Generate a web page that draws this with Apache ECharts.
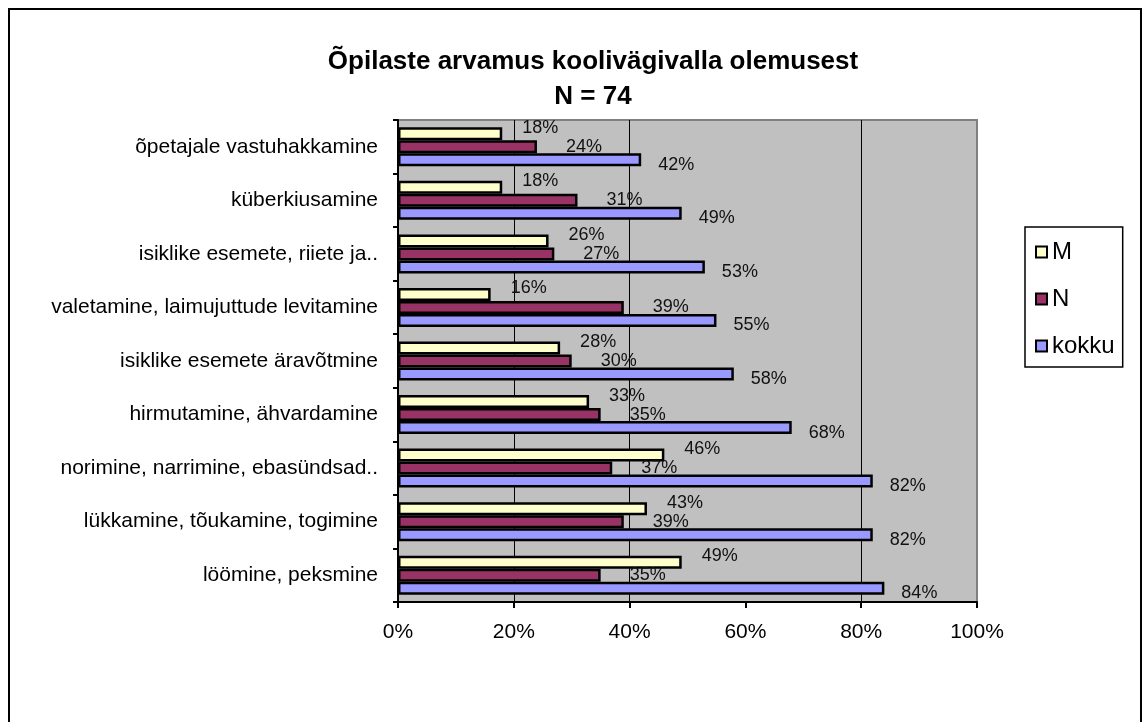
<!DOCTYPE html>
<html>
<head>
<meta charset="utf-8">
<script src="https://cdn.jsdelivr.net/npm/echarts@6/dist/echarts.min.js"></script>
<style>
  html, body { margin: 0; padding: 0; background: #fff; }
  #main { width: 1143px; height: 722px; }
</style>
</head>
<body>
<div id="main"></div>
<script>
// categories from bottom to top
const categories = [
  'löömine, peksmine',
  'lükkamine, tõukamine, togimine',
  'norimine, narrimine, ebasündsad..',
  'hirmutamine, ähvardamine',
  'isiklike esemete äravõtmine',
  'valetamine, laimujuttude levitamine',
  'isiklike esemete, riiete ja..',
  'küberkiusamine',
  'õpetajale vastuhakkamine'
];
const valuesM = [49, 43, 46, 33, 28, 16, 26, 18, 18];
const valuesN = [35, 39, 37, 35, 30, 39, 27, 31, 24];
const valuesKokku = [84, 82, 82, 68, 58, 55, 53, 49, 42];
const xTicks = [0, 20, 40, 60, 80, 100];

const font = '"Liberation Sans", Arial, sans-serif';

function barSeries (name, data, color, dist, off) {
  return {
    name: name,
    type: 'bar',
    data: data,
    barWidth: 13,
    barGap: '0%',
    itemStyle: { color: color, borderColor: '#000', borderWidth: 2.5 },
    label: {
      show: true,
      position: 'right',
      distance: dist,
      offset: off,
      formatter: '{c}%',
      fontFamily: font,
      fontSize: 18,
      color: '#111'
    }
  };
}

let chart = echarts.init(document.getElementById('main'));
chart.setOption({
  backgroundColor: '#fff',
  animation: false,
  title: {
    text: 'Õpilaste arvamus koolivägivalla olemusest\nN = 74',
    left: 588,
    top: 39,
    textAlign: 'center',
    textStyle: {
      fontFamily: font,
      fontSize: 26,
      fontWeight: 'bold',
      color: '#000',
      lineHeight: 35
    }
  },
  legend: {
    orient: 'vertical',
    left: 1025,
    top: 227,
    data: ['M', 'N', 'kokku'],
    icon: 'rect',
    itemWidth: 11,
    itemHeight: 11,
    itemGap: 23,
    padding: [13, 8, 9, 10],
    borderColor: '#000',
    borderWidth: 1.5,
    textStyle: { fontFamily: font, fontSize: 24, color: '#000' }
  },
  grid: {
    left: 398,
    right: 166,
    top: 120,
    bottom: 120,
    show: true,
    backgroundColor: '#c0c0c0',
    borderColor: '#808080',
    borderWidth: 2
  },
  xAxis: {
    type: 'value',
    min: xTicks[0],
    max: xTicks[xTicks.length - 1],
    interval: 20,
    axisLine: { show: true, lineStyle: { color: '#000', width: 2 } },
    axisTick: { show: true, length: 6, lineStyle: { color: '#000', width: 2 } },
    axisLabel: {
      formatter: '{value}%',
      margin: 20,
      fontFamily: font,
      fontSize: 21,
      color: '#000'
    },
    splitLine: {
      show: true,
      lineStyle: {
        color: ['transparent', '#000', '#000', 'transparent', '#000', 'transparent'],
        width: 1
      }
    }
  },
  yAxis: {
    type: 'category',
    data: categories,
    axisLine: { show: true, lineStyle: { color: '#000', width: 2 } },
    axisTick: { show: true, length: 5, lineStyle: { color: '#000', width: 2 } },
    axisLabel: {
      margin: 20,
      fontFamily: font,
      fontSize: 21,
      color: '#000'
    }
  },
  series: [
    barSeries('M', valuesM, '#ffffcc', 20, [0, -6]),
    barSeries('N', valuesN, '#993366', 29, [0, 0]),
    barSeries('kokku', valuesKokku, '#9999ff', 17, [0, 5])
  ],
  graphic: [{
    type: 'rect',
    shape: { x: 9, y: 9, width: 1132, height: 730 },
    style: { fill: 'none', stroke: '#000', lineWidth: 2 },
    silent: true
  }]
});
</script>
</body>
</html>
